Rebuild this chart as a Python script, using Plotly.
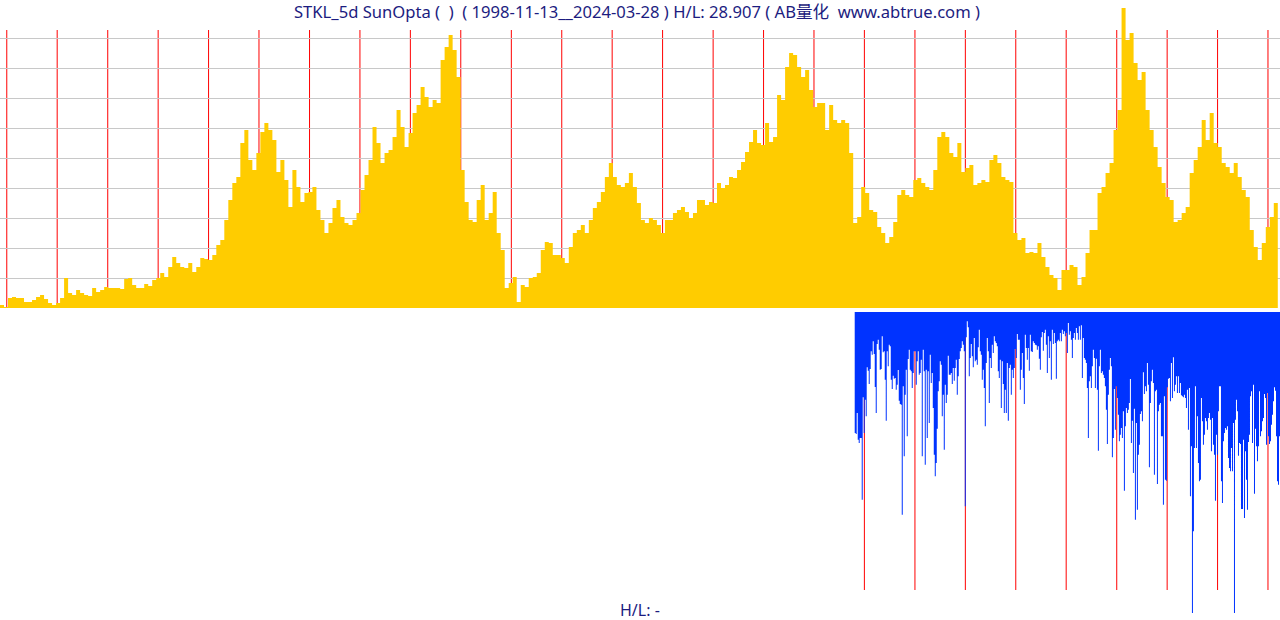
import pandas as pd
import plotly.graph_objects as go

# ---------------- data ----------------
# weekly-close index of STKL (300 = period high), sampled about every 4 weeks
price_a = [3,1,10,11,10,10,6,6,8,11,13,9,5,3,5,10,30,15,13,18,15,13,12,20,16,18,21,20,20,20,
           19,29,30,23,20,20,24,22,28,30,35,31,41,51,45,41,40,45,36,41,50,49,48,53,63,68,88,108,125,131,
           165,178,148,138,155,176,185,178,168,136,148,128,101,138,121,106,115,116,121,98]
price_b = [88,75,85,100,108,91,85,83,88,95,118,133,148,181,165,145,155,158,171,198,
           181,161,175,195,203,221,211,201,208,205,248,261,273,258,231,138,106,88,86,108,
           123,88,95,116,75,58,20,25,31,6,23,21,30,31,35,58,66,65,53,53,
           50,45,61,75,78,83,75,88,100,106,116,131,145,131,123,121,125,135,121,105]
price_c = [88,85,90,88,83,75,88,88,95,98,101,96,90,95,108,108,103,106,105,125,
           120,123,131,130,138,146,156,166,178,165,163,185,166,171,213,208,241,255,253,241,
           231,238,218,201,205,205,178,203,188,185,188,185,155,85,91,121,115,98,96,81,
           75,65,71,86,113,118,113,111,128,130,125,121,118,138,171,176,171,155,151,165]
price_d = [136,140,143,123,125,128,126,148,153,145,131,128,126,75,68,70,55,56,55,65,
           51,41,33,30,18,38,38,43,41,23,31,55,78,78,115,121,135,145,178,198,
           300,268,275,245,228,236,198,178,161,141,125,111,108,86,88,95,101,135,148,161,
           188,168,195,165,161,145,141,135,145,131,118,111,78,61,48,65,81,91,105,115]
price_idx = price_a + price_b + price_c + price_d

# weekly secondary indicator (900 = full scale), drawn downward
ratio_idx = [363,366,303,383,393,378,378,563,256,363,263,313,166,176,216,171,118,128,88,126,
             225,303,96,83,113,173,171,73,121,118,203,326,118,163,98,103,203,231,191,200,
             198,233,218,174,266,276,278,608,223,433,248,173,373,141,113,173,178,228,183,118,
             118,218,148,118,188,183,143,433,113,178,458,173,378,178,333,128,213,183,288,428,
             493,453,350,238,208,148,158,313,248,413,218,273,248,131,188,188,183,216,168,206,
             168,143,248,193,141,118,108,88,98,118,583,76,28,46,193,138,96,133,166,78,
             148,143,158,106,53,118,128,203,173,228,343,153,78,118,273,138,168,98,123,73,
             88,93,103,178,198,143,288,148,216,303,233,303,153,326,168,158,248,173,198,168,
             111,138,66,83,83,233,173,123,198,276,68,108,143,108,176,68,118,120,88,93,
             98,100,113,103,140,173,76,60,116,63,53,98,183,73,138,88,203,53,96,63,
             93,200,88,83,88,63,88,53,66,58,73,63,123,33,68,58,83,138,78,63,
             83,48,63,83,43,83,40,198,78,138,143,153,228,378,208,193,228,163,113,138,
             228,140,233,416,163,113,183,178,188,198,223,293,396,248,173,138,163,436,378,231,
             353,223,258,308,388,368,348,378,298,536,343,288,303,293,273,201,393,326,483,290,
             623,333,593,428,398,306,298,328,181,246,223,238,153,218,466,273,208,173,213,488,
             238,233,516,298,278,273,373,373,578,253,503,506,226,200,198,268,153,258,136,238,
             218,193,243,193,243,213,250,253,256,248,258,288,233,353,228,553,403,903,658,408,
             223,408,313,453,508,503,258,328,398,368,318,328,353,318,303,323,418,318,398,428,
             566,368,428,298,223,223,508,573,388,363,348,353,343,438,468,478,408,478,333,903,
             323,263,298,431,393,396,591,591,383,618,418,503,593,390,368,253,238,393,218,545,
             350,403,448,403,238,373,358,328,318,246,258,398,243,373,396,388,338,308,268,226,
             236,373,508,518,373,373]

start_date = "1998-11-13"
end_date = "2024-03-28"
ratio_start = "2015-10-23"
year_marks = list(range(1999, 2025))
ratio_year_marks = list(range(2016, 2025))

title_text = ("STKL_5d SunOpta (\u00a0\u00a0)\u00a0\u00a0( 1998-11-13__2024-03-28 ) H/L: 28.907 "
              "( AB量化\u00a0\u00a0www.abtrue.com )")
bottom_text = "H/L: -"

# ---------------- figure ----------------
W, H = 1280, 620
price_dates = pd.date_range(start_date, periods=len(price_idx), freq="29D")
ratio_dates = pd.date_range(ratio_start, end_date, periods=len(ratio_idx))

fig = go.Figure()
fig.add_trace(go.Scatter(x=price_dates, y=price_idx, mode="lines", line=dict(width=0, shape="hv"),
                         fill="tozeroy", fillcolor="#FFCC00", hoverinfo="skip",
                         xaxis="x", yaxis="y"))
fig.add_trace(go.Scatter(x=ratio_dates, y=ratio_idx, mode="lines", line=dict(width=0, shape="hv"),
                         fill="tozeroy", fillcolor="#0033FF", hoverinfo="skip",
                         xaxis="x", yaxis="y2"))

top_dom = [1 - 308 / H, 1.0]
bot_dom = [0.0, 1 - 312 / H]

shapes = []
for yr in year_marks:
    shapes.append(dict(type="line", xref="x", yref="paper", x0=f"{yr}-01-01", x1=f"{yr}-01-01",
                       y0=1 - 308 / H, y1=1 - 30 / H, line=dict(color="#FF0000", width=1),
                       layer="below"))
for yr in ratio_year_marks:
    shapes.append(dict(type="line", xref="x", yref="paper", x0=f"{yr}-01-01", x1=f"{yr}-01-01",
                       y0=1 - 590 / H, y1=1 - 312 / H, line=dict(color="#FF0000", width=1),
                       layer="below"))

fig.update_layout(
    width=W, height=H,
    margin=dict(l=0, r=0, t=0, b=0),
    paper_bgcolor="white", plot_bgcolor="rgba(0,0,0,0)",
    showlegend=False,
    xaxis=dict(type="date", range=[start_date, end_date], showgrid=False, showticklabels=False,
               zeroline=False, showline=False, ticks="", anchor="y"),
    yaxis=dict(domain=top_dom, range=[0, 308], tickvals=list(range(30, 300, 30)),
               showgrid=True, gridcolor="#C8C8C8", gridwidth=1, showticklabels=False,
               zeroline=False, showline=False, ticks=""),
    yaxis2=dict(domain=bot_dom, range=[924, 0], showgrid=False, showticklabels=False,
                zeroline=False, showline=False, ticks=""),
    shapes=shapes,
    annotations=[
        dict(text=title_text, xref="paper", yref="paper", x=0.498, y=1 + 1 / H, xanchor="center",
             yanchor="top", showarrow=False, borderpad=0,
             font=dict(family="Noto Sans, Noto Sans CJK SC", size=16.6, color="#1C1C80")),
        dict(text=bottom_text, xref="paper", yref="paper", x=0.5, y=-2 / H, xanchor="center",
             yanchor="bottom", showarrow=False, borderpad=0,
             font=dict(family="Noto Sans, Noto Sans CJK SC", size=16, color="#1C1C80")),
    ],
)

fig.write_html("out.html")
